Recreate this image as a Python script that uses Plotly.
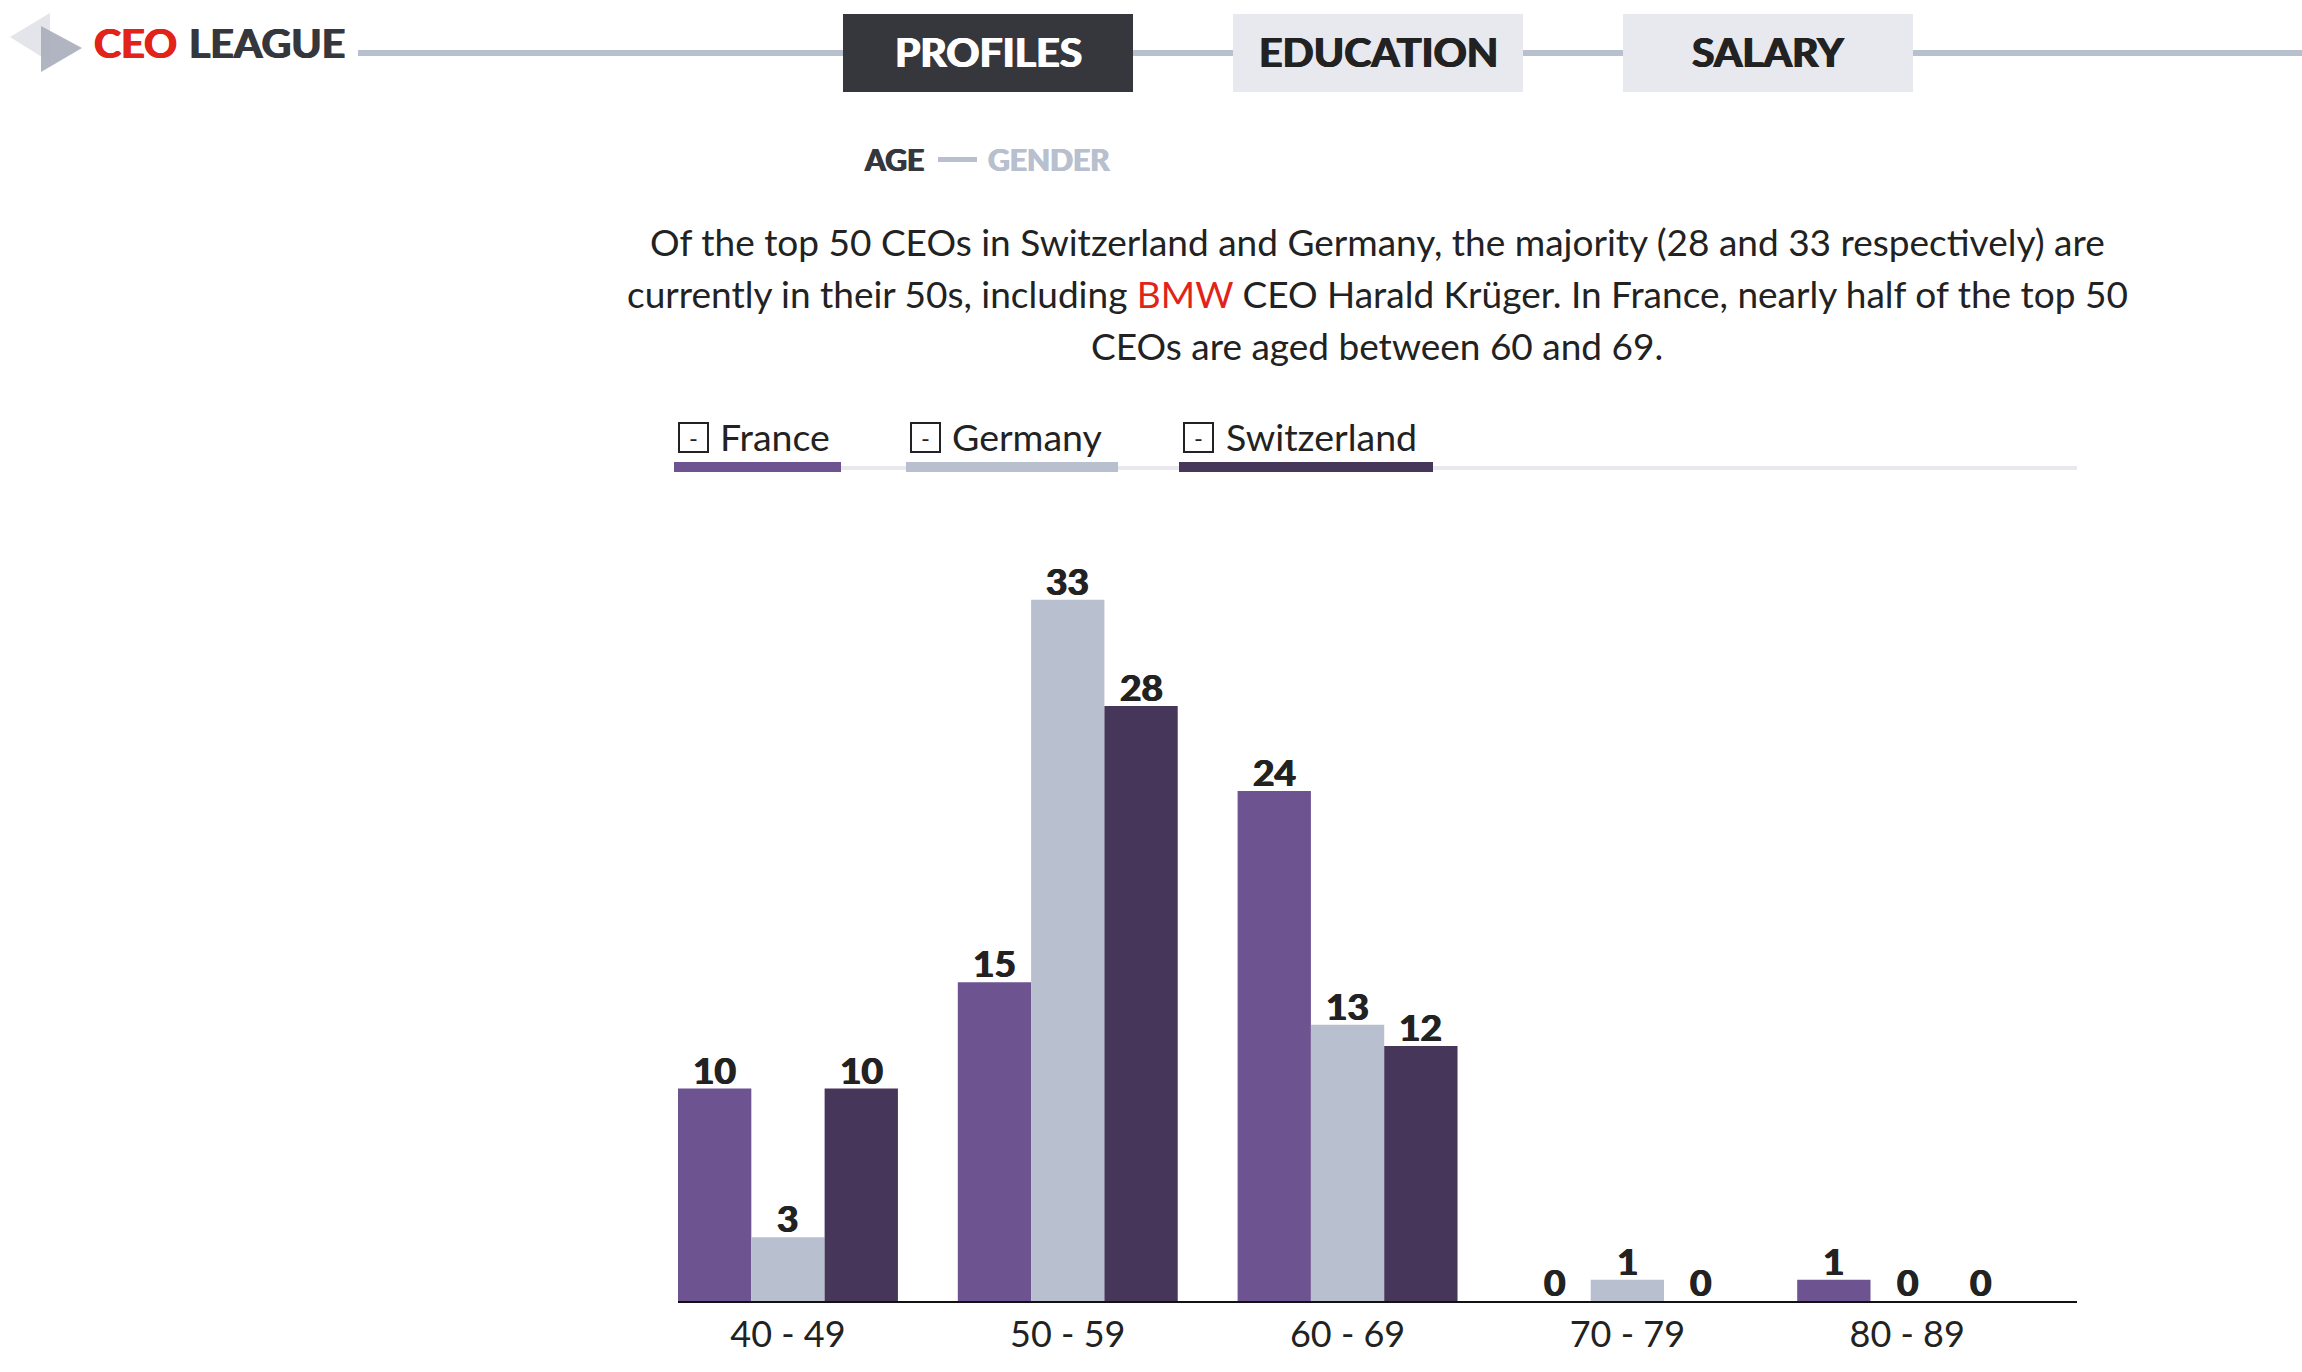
import plotly.graph_objects as go

age_groups = ["40 - 49", "50 - 59", "60 - 69", "70 - 79", "80 - 89"]
france = [10, 15, 24, 0, 1]
germany = [3, 33, 13, 1, 0]
switzerland = [10, 28, 12, 0, 0]
countries = ["France", "Germany", "Switzerland"]
nav_labels = ["PROFILES", "EDUCATION", "SALARY"]
intro_lines = [
    "Of the top 50 CEOs in Switzerland and Germany, the majority (28 and 33 respectively) are",
    "currently in their 50s, including <span style='color:#e2231a'>BMW</span> CEO Harald Krüger. In France, nearly half of the top 50",
    "CEOs are aged between 60 and 69.",
]

W, H = 2302, 1372
PURPLE, GREY, DARK = "#6d5390", "#b8bfce", "#46365a"
INK, NAV_DARK, NAV_LIGHT = "#222222", "#36373d", "#e8e8ef"
FONT = "Lato"
BAR_STEP = 73.3  # px between neighbouring bars in a group


def px(x):
    return x / W


def py(y):
    return 1 - y / H


def rect(x0, y0, x1, y1, fill, line=None):
    return dict(
        type="rect", xref="paper", yref="paper", layer="above",
        x0=px(x0), y0=py(y0), x1=px(x1), y1=py(y1),
        fillcolor=fill, line=dict(color=line or fill, width=2 if line else 0),
    )


def poly(points, fill, opacity=1.0):
    path = "M " + " L ".join(f"{px(a)} {py(b)}" for a, b in points) + " Z"
    return dict(type="path", xref="paper", yref="paper", layer="above", path=path,
                fillcolor=fill, opacity=opacity, line=dict(width=0))


def heavy_font(size, color):
    # no black cut of Lato here, a thin shadow thickens the bold
    return dict(family=FONT, size=size, color=color, weight=700,
                shadow=f"0.8px 0 0 {color}, -0.8px 0 0 {color}")


def label(x, y, text, size, color=INK, heavy=False, anchor="center"):
    font = heavy_font(size, color) if heavy else dict(family=FONT, size=size, color=color)
    return dict(
        xref="paper", yref="paper", x=px(x), y=py(y), text=text, showarrow=False,
        xanchor=anchor, yanchor="middle", align=anchor, font=font,
    )


fig = go.Figure()
series = [france, germany, switzerland]
colors = [PURPLE, GREY, DARK]
annotations = []
for i, (name, values, color) in enumerate(zip(countries, series, colors)):
    fig.add_trace(go.Bar(
        x=age_groups, y=values, name=name, marker=dict(color=color, line=dict(width=0)),
        cliponaxis=False,
    ))
    # value labels sit closer to the bars than textposition="outside" allows
    for group, value in zip(age_groups, values):
        annotations.append(dict(
            x=group, y=value, xref="x", yref="y", text=str(value), showarrow=False,
            xanchor="center", yanchor="bottom", xshift=(i - 1) * BAR_STEP, yshift=-5,
            font=heavy_font(37, INK),
        ))

# header rule, nav boxes, logo
shapes = [rect(358, 50, W, 56, GREY)]
for text, x0 in zip(nav_labels, [843, 1233, 1623]):
    active = text == "PROFILES"
    shapes.append(rect(x0, 14, x0 + 290, 92, NAV_DARK if active else NAV_LIGHT))
    annotations.append(label(x0 + 145, 51, text, 41, "#ffffff" if active else INK, True))

shapes.append(poly([(50, 13), (10, 37), (50, 62)], "#d9dae2", 0.7))
shapes.append(poly([(41, 26), (82, 48), (41, 72)], "#a9adba", 0.9))
annotations.append(label(92, 42, "CEO", 41, "#e2231a", True, "left"))
annotations.append(label(187, 42, "LEAGUE", 41, NAV_DARK, True, "left"))

# age / gender switch
annotations.append(label(862, 159, "AGE", 30, NAV_DARK, True, "left"))
shapes.append(rect(938, 157, 977, 162, GREY))
annotations.append(label(986, 159, "GENDER", 30, GREY, True, "left"))

for text, y in zip(intro_lines, [242, 293, 345]):
    annotations.append(label(1377, y, text, 37))

# custom legend
shapes.append(rect(841, 466, 2077, 470, NAV_LIGHT))
legend_bars = [(674, 841), (906, 1118), (1179, 1433)]
legend_boxes = [678, 910, 1183]
legend_text = [718, 950, 1224]
for name, color, bar, box, tx in zip(countries, colors, legend_bars, legend_boxes, legend_text):
    shapes.append(rect(bar[0], 462, bar[1], 472, color))
    shapes.append(rect(box + 1, 423, box + 30, 452, "#ffffff", INK))
    annotations.append(label(box + 15.5, 437, "-", 24))
    annotations.append(label(tx, 436, name, 37.5, anchor="left"))

fig.update_layout(
    width=W, height=H, margin=dict(l=0, r=0, t=0, b=0),
    paper_bgcolor="#ffffff", plot_bgcolor="#ffffff",
    barmode="group", bargap=0.214, bargroupgap=0, showlegend=False,
    shapes=shapes, annotations=annotations,
)
fig.update_xaxes(
    domain=[px(678), px(2077)], range=[-0.393, 4.607], showgrid=False, zeroline=False,
    showline=True, linecolor="#111111", linewidth=2, ticks="", ticklabelstandoff=1,
    tickfont=dict(family=FONT, size=36, color=INK),
)
fig.update_yaxes(
    domain=[py(1301), py(500)], range=[0, 801 / 21.25], visible=False,
)

fig.write_html("out.html", config={"displayModeBar": False},
               post_script="document.body.style.margin='0';")
